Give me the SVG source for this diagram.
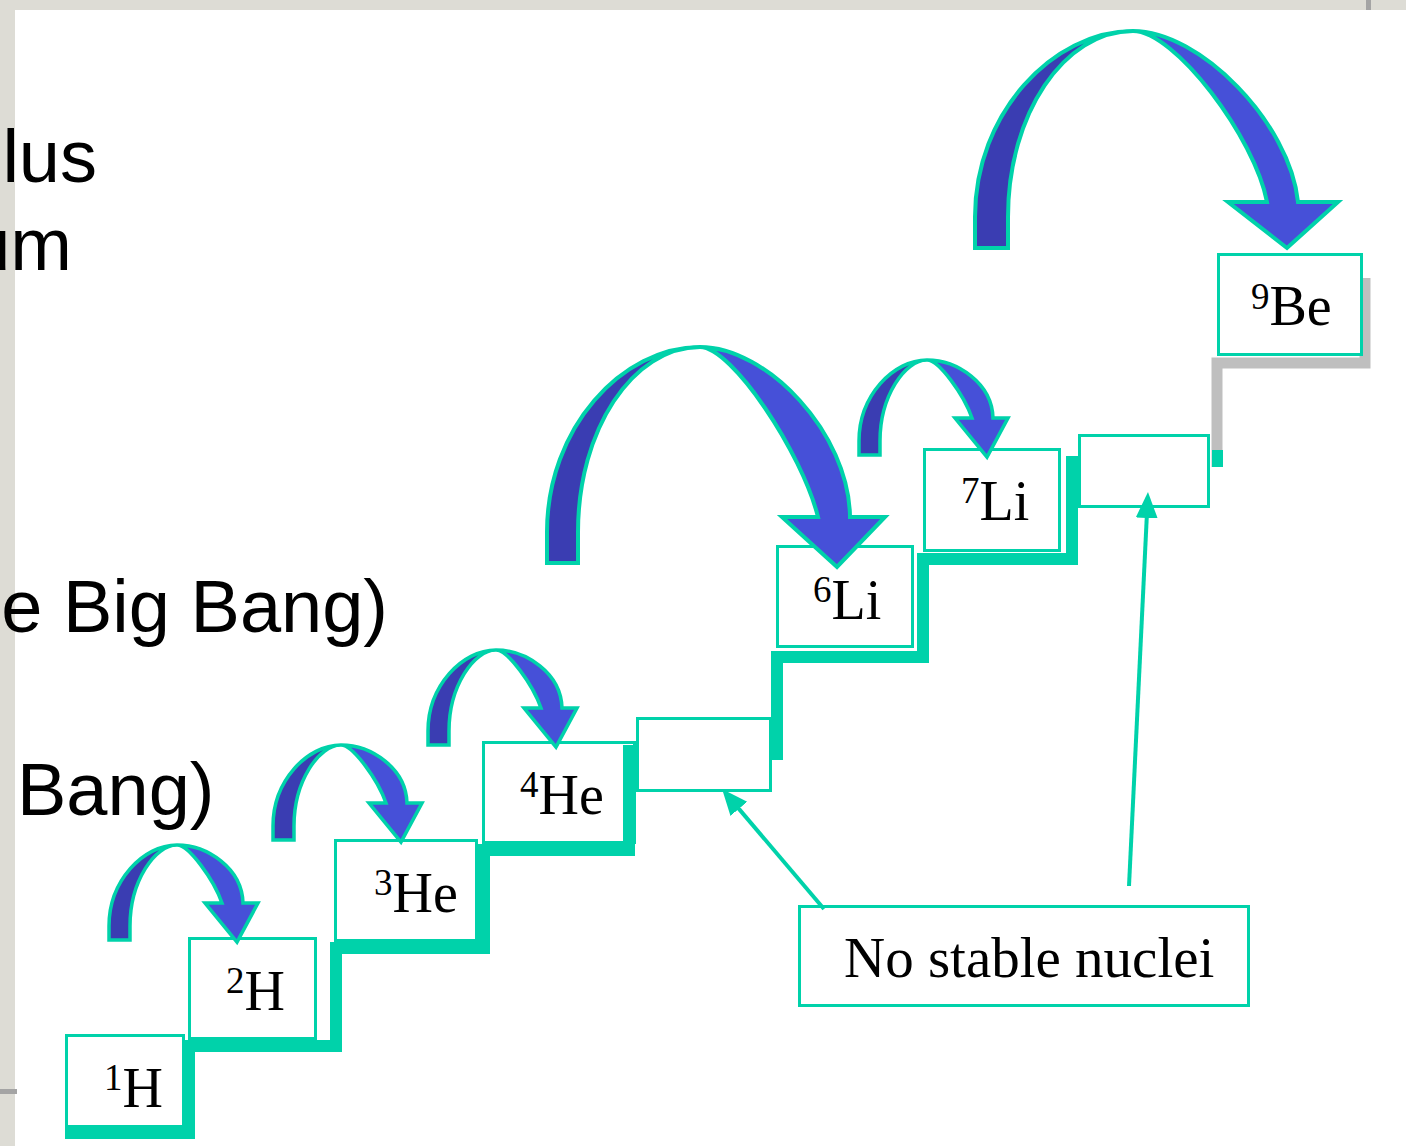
<svg xmlns="http://www.w3.org/2000/svg" xmlns:xlink="http://www.w3.org/1999/xlink" width="1406" height="1146" viewBox="0 0 1406 1146">
<style>
.box{fill:#ffffff;stroke:#00d2aa;stroke-width:3}
.lbl{font-family:"Liberation Serif","Times New Roman",serif;font-size:56px;fill:#000}
.sup{font-size:37px}
.side{font-family:"Liberation Sans",Arial,sans-serif;font-size:74px;fill:#000}
.stair{fill:none;stroke:#00d2aa;stroke-width:12;stroke-linejoin:miter}
.dark{fill:#3a3db2;stroke:none}
.light{fill:#4650d8;stroke:none}
.edge{fill:none;stroke:#00d2aa;stroke-width:3.5;stroke-linejoin:miter}
.conn{fill:none;stroke:#00d2aa;stroke-width:4}
</style>
<defs>
<marker id="ah" markerUnits="userSpaceOnUse" markerWidth="26" markerHeight="24" viewBox="0 0 26 24" refX="14" refY="12" orient="auto">
<path d="M0,1 L26,12 L0,23 Z" fill="#00d2aa"/>
</marker>
<g id="smallArrow">
<path class="dark" d="M0,0 L0,-14 C0,-59 34,-95 68,-95 C46,-95 21,-59 21,-14 L21,0 Z"/>
<path class="light" d="M68,-95 C98,-95 133,-72 134,-37 L149,-37 L128,2 L96,-37 L113,-37 C105,-60 80,-95 68,-95 Z"/>
<path class="edge" d="M0,0 L0,-14 C0,-59 34,-95 68,-95 C98,-95 133,-72 134,-37 L149,-37 L128,2 L96,-37 L113,-37 C105,-60 80,-95 68,-95 C46,-95 21,-59 21,-14 L21,0 Z"/>
</g>
</defs>

<g id="background">
<rect x="0" y="0" width="1406" height="1146" fill="#dddcd5"/>
<rect x="15" y="10" width="1391" height="1136" fill="#ffffff"/>
<rect x="1366" y="0" width="5" height="10" fill="#a4a4a4"/>
<rect x="0" y="1089" width="17" height="5" fill="#a4a4a4"/>
</g>

<g id="side-text">
<text class="side" x="97" y="182" text-anchor="end">lus</text>
<text class="side" x="72" y="270" text-anchor="end">um</text>
<text class="side" x="388" y="632" text-anchor="end">e Big Bang)</text>
<text class="side" x="17" y="815">Bang)</text>
</g>

<g id="staircase-grey">
<path d="M1217,467 V363 H1365 V278" fill="none" stroke="#bfbfbf" stroke-width="11"/>
</g>

<g id="node-1H"><rect class="box" x="66.5" y="1035.5" width="117" height="91"/><text class="lbl" x="104" y="1107"><tspan class="sup" dy="-17">1</tspan><tspan dy="17">H</tspan></text></g>
<g id="node-2H"><rect class="box" x="189.5" y="938.5" width="126" height="100"/><text class="lbl" x="226" y="1010"><tspan class="sup" dy="-17">2</tspan><tspan dy="17">H</tspan></text></g>
<g id="node-3He"><rect class="box" x="335.5" y="840.5" width="141" height="100"/><text class="lbl" x="374" y="912"><tspan class="sup" dy="-17">3</tspan><tspan dy="17">He</tspan></text></g>
<g id="node-4He"><rect class="box" x="483.5" y="742.5" width="151" height="100"/><text class="lbl" x="520" y="814"><tspan class="sup" dy="-17">4</tspan><tspan dy="17">He</tspan></text></g>
<g id="node-empty1"><rect class="box" x="637.5" y="718.5" width="133" height="72"/></g>
<g id="node-6Li"><rect class="box" x="777.5" y="546.5" width="135" height="100"/><text class="lbl" x="813" y="619"><tspan class="sup" dy="-17">6</tspan><tspan dy="17">Li</tspan></text></g>
<g id="node-7Li"><rect class="box" x="924.5" y="449.5" width="135" height="101"/><text class="lbl" x="961" y="520"><tspan class="sup" dy="-17">7</tspan><tspan dy="17">Li</tspan></text></g>
<g id="node-empty2"><rect class="box" x="1079.5" y="435.5" width="129" height="71"/></g>
<g id="node-9Be"><rect class="box" x="1218.5" y="254.5" width="143" height="100"/><text class="lbl" x="1251" y="325"><tspan class="sup" dy="-16">9</tspan><tspan dy="16">Be</tspan></text></g>
<g id="node-label"><rect class="box" x="799.5" y="906.5" width="449" height="99"/><text class="lbl" x="844" y="977" style="font-size:57px">No stable nuclei</text></g>

<g id="staircase">
<path class="stair" d="M65,1133 H189 V1046 H336 V948 H484 V850 H629 V745"/>
<path class="stair" d="M777,760 V657 H923 V559 H1072 V456"/>
<rect x="1212" y="450" width="11" height="17" fill="#00d2aa"/>
</g>

<g id="connectors">
<use xlink:href="#smallArrow" href="#smallArrow" x="109" y="940"/>
<use xlink:href="#smallArrow" href="#smallArrow" x="273" y="840"/>
<use xlink:href="#smallArrow" href="#smallArrow" x="428" y="745"/>
<use xlink:href="#smallArrow" href="#smallArrow" x="859" y="455"/>
<g transform="translate(547,563)">
<path class="dark" d="M0,0 L0,-31 C0,-135 75,-216 153,-216 C85.6,-216 31,-133 31,-31 L31,0 Z"/>
<path class="light" d="M153,-216 C220,-216 302,-130 303,-46 L338,-46 L290,4 L235,-46 L271,-46 C255,-110 185,-216 153,-216 Z"/>
<path class="edge" style="stroke-width:4" d="M0,0 L0,-31 C0,-135 75,-216 153,-216 C220,-216 302,-130 303,-46 L338,-46 L290,4 L235,-46 L271,-46 C255,-110 185,-216 153,-216 C85.6,-216 31,-133 31,-31 L31,0 Z"/>
</g>
<g transform="translate(975,248)">
<path class="dark" d="M0,0 L0,-31 C0,-135 78,-217 158,-217 C89,-217 33,-134 33,-31 L33,0 Z"/>
<path class="light" d="M158,-217 C225,-217 315,-125 323,-46 L363,-46 L312,0 L253,-46 L292,-46 C280,-110 200,-217 158,-217 Z"/>
<path class="edge" style="stroke-width:4" d="M0,0 L0,-31 C0,-135 78,-217 158,-217 C225,-217 315,-125 323,-46 L363,-46 L312,0 L253,-46 L292,-46 C280,-110 200,-217 158,-217 C89,-217 33,-134 33,-31 L33,0 Z"/>
</g>
<line class="conn" x1="824" y1="909" x2="729.8" y2="798.1" marker-end="url(#ah)"/>
<line class="conn" x1="1129" y1="886" x2="1147.4" y2="504" marker-end="url(#ah)"/>
</g>
</svg>
